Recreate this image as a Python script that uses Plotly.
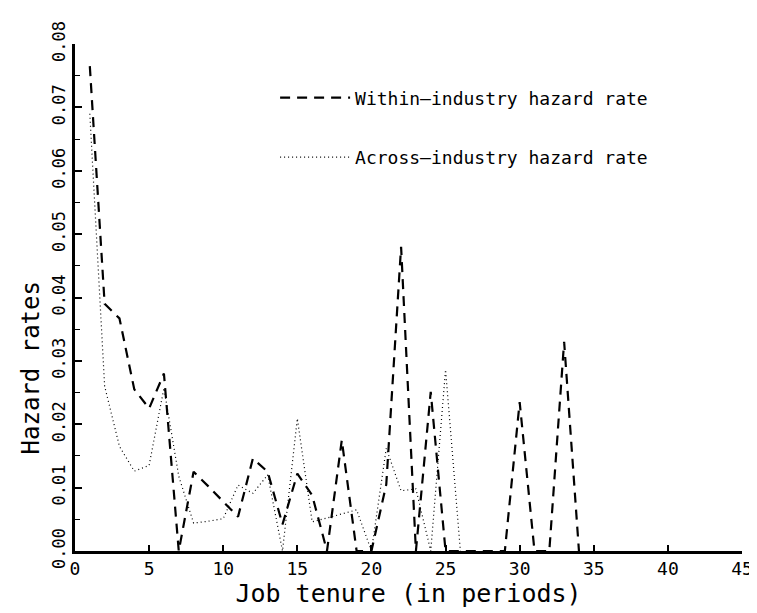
import plotly.graph_objects as go

# Job tenure (periods)
tenure_within = list(range(1, 35))
within_rate = [0.0765, 0.039, 0.0367, 0.0255, 0.0225, 0.028, 0.0, 0.0125, 0.0102, 0.0078,
               0.0054, 0.0146, 0.0125, 0.0042, 0.0122, 0.0088, 0.0, 0.0175, 0.0, 0.0,
               0.0105, 0.048, 0.0, 0.0251, 0.0, 0.0, 0.0, 0.0, 0.0, 0.0235,
               0.0, 0.0, 0.033, 0.0]

tenure_across = list(range(1, 27))
across_rate = [0.069, 0.026, 0.0165, 0.0126, 0.0135, 0.0257, 0.0118, 0.0044, 0.0047, 0.0051,
               0.0104, 0.0091, 0.012, 0.0, 0.0209, 0.0046, 0.0052, 0.0058, 0.0065, 0.0,
               0.0162, 0.0095, 0.0098, 0.0, 0.0286, 0.0]

x_ticks = [0, 5, 10, 15, 20, 25, 30, 35, 40, 45]
y_ticks = [0.00, 0.01, 0.02, 0.03, 0.04, 0.05, 0.06, 0.07, 0.08]

FONT = "DejaVu Sans Mono"

fig = go.Figure()
fig.add_trace(go.Scatter(
    x=tenure_within, y=within_rate, mode="lines",
    name="Within\u2013industry hazard rate", legendgroup="a",
    line=dict(color="black", width=2.2, dash="10px,7px"),
))
fig.add_trace(go.Scatter(
    x=tenure_across, y=across_rate, mode="lines",
    name="Across\u2013industry hazard rate", legendgroup="b",
    line=dict(color="black", width=1.2, dash="1px,3px"),
))

fig.add_annotation(
    text="Hazard rates", xref="paper", yref="paper",
    x=-0.066, y=0.362, xanchor="center", yanchor="middle",
    textangle=-90, showarrow=False,
    font=dict(size=24, family=FONT, color="black"),
)

fig.update_layout(
    width=757, height=613,
    margin=dict(l=67, r=15, t=36, b=70),
    paper_bgcolor="white", plot_bgcolor="white",
    font=dict(family=FONT, color="black"),
    showlegend=True,
    legend=dict(
        x=0.30, y=0.93, xanchor="left", yanchor="top",
        bgcolor="rgba(0,0,0,0)", borderwidth=0,
        font=dict(size=18, family=FONT),
        tracegroupgap=33, itemwidth=70,
    ),
    xaxis=dict(
        range=[0, 45], tickvals=x_ticks, ticktext=[str(v) for v in x_ticks],
        showgrid=False, zeroline=False,
        showline=True, linecolor="black", linewidth=2.5,
        ticks="inside", ticklen=6, tickwidth=1.5, tickcolor="black",
        tickfont=dict(size=18, family=FONT),
        title=dict(text="Job tenure (in periods)", font=dict(size=25, family=FONT), standoff=4),
    ),
    yaxis=dict(
        range=[0, 0.08], tickvals=y_ticks, tickformat=".2f",
        showgrid=False, zeroline=False,
        showline=True, linecolor="black", linewidth=2.5,
        ticks="inside", ticklen=7, tickwidth=1.5, tickcolor="black",
        tickangle=-90,
        tickfont=dict(size=17, family=FONT),
        minor=dict(dtick=0.005, ticks="inside", ticklen=5, tickwidth=1.2, tickcolor="black"),
    ),
)

fig.write_html("out.html")
